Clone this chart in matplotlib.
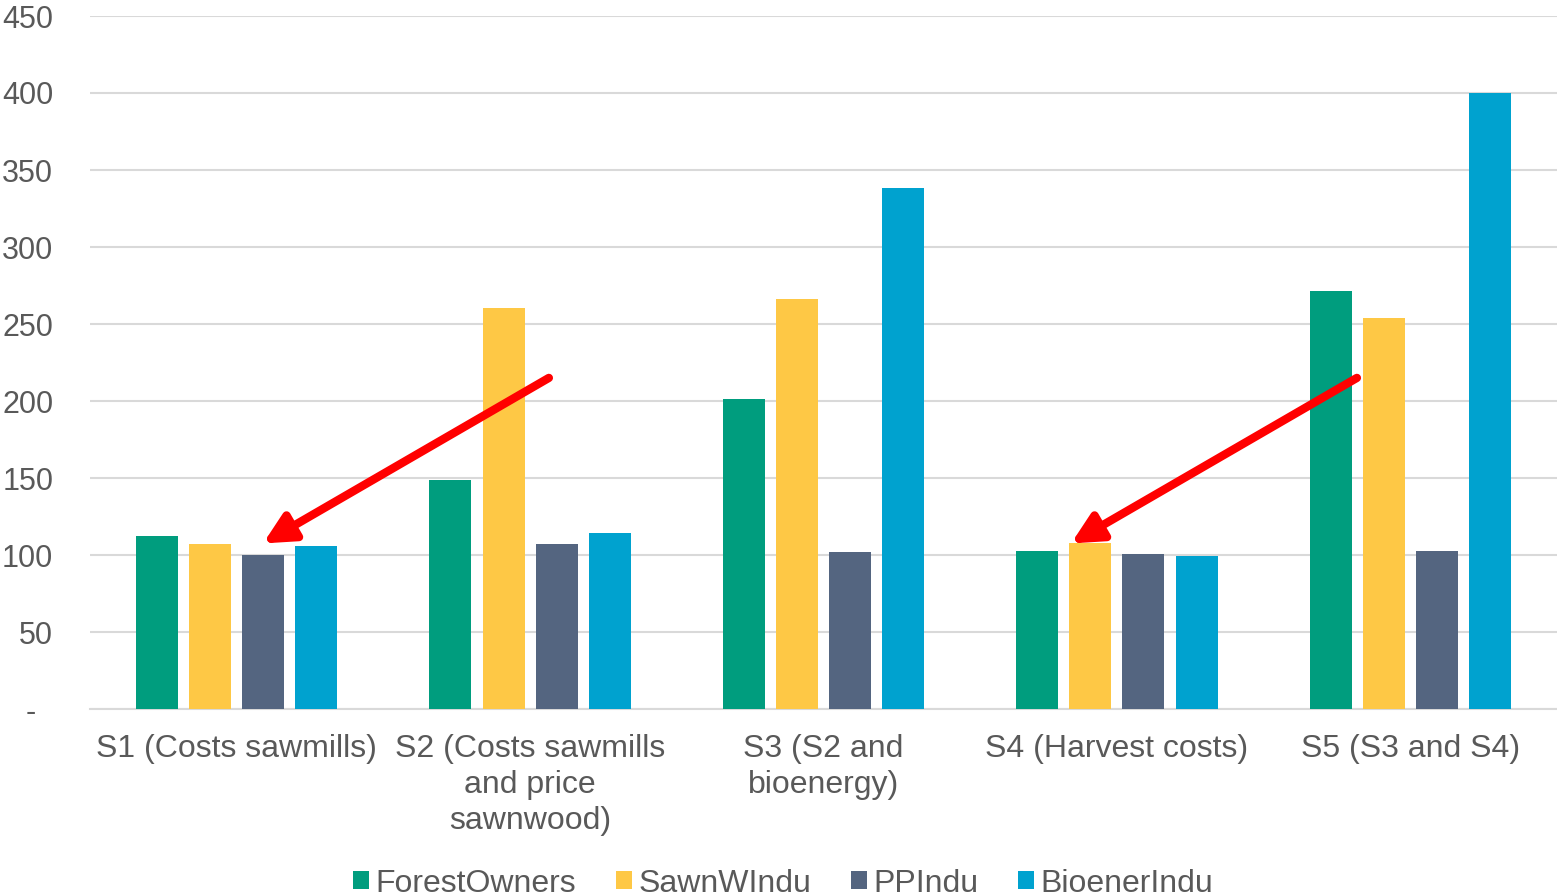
import numpy as np
import matplotlib
matplotlib.use("Agg")
from matplotlib import pyplot as plt

# data
scenarios = ["S1 (Costs sawmills)", "S2 (Costs sawmills\nand price\nsawnwood)",
             "S3 (S2 and\nbioenergy)", "S4 (Harvest costs)", "S5 (S3 and S4)"]
forest_owners = [112.5, 148.5, 201.2, 102.8, 271.4]
sawn_w_indu = [107.2, 260.3, 266.3, 108.0, 253.8]
pp_indu = [100.0, 107.0, 102.2, 100.7, 102.5]
bioener_indu = [105.9, 114.3, 338.0, 99.2, 399.7]
series_names = ["ForestOwners", "SawnWIndu", "PPIndu", "BioenerIndu"]
yticks = [0, 50, 100, 150, 200, 250, 300, 350, 400, 450]
ytick_labels = ["-  ", "50", "100", "150", "200", "250", "300", "350", "400", "450"]

# arrows (tail, head) in data coords
arrows = [((1.064, 215), (0.09, 107.5)),
          ((3.818, 215), (2.844, 107.5))]

colors = ["#009D7E", "#FEC845", "#546580", "#00A2CF"]

plt.rcParams['font.family'] = ['Liberation Sans', 'DejaVu Sans']

fig = plt.figure(figsize=(15.57, 8.96), dpi=100)
ax = fig.add_axes([90 / 1557, 1 - 709 / 896, 1 - 90 / 1557, (709 - 16) / 896])

x = np.arange(len(scenarios))
step = 0.181
width = 0.143
for i, (vals, name) in enumerate(zip([forest_owners, sawn_w_indu, pp_indu, bioener_indu], series_names)):
    ax.bar(x + (i - 1.5) * step, vals, width, color=colors[i], label=name, zorder=3)

ax.set_xlim(-0.5, 4.5)
ax.set_ylim(0, 450)
ax.set_yticks(yticks)
ax.set_yticklabels(ytick_labels)
ax.set_xticks(x)
ax.set_xticklabels(scenarios, linespacing=1.25, fontsize=23)

ax.grid(axis='y', color='#D9D9D9', linewidth=1.5, zorder=0)
for s in ['top', 'right', 'left']:
    ax.spines[s].set_visible(False)
ax.spines['bottom'].set_color('#D9D9D9')
ax.spines['bottom'].set_linewidth(1.5)
ax.tick_params(axis='both', length=0, labelcolor='#595959')
ax.tick_params(axis='y', pad=26.5, labelsize=22)
ax.tick_params(axis='x', pad=18)

for tail, head in arrows:
    ax.annotate("", xy=head, xytext=tail,
                arrowprops=dict(arrowstyle="-|>,head_length=0.9,head_width=0.45",
                                mutation_scale=20,
                                color='#FF0000', lw=6, shrinkA=0, shrinkB=0),
                zorder=5)

fig.legend(loc='lower center', bbox_to_anchor=(0.503, -0.035), ncol=4, frameon=False,
           fontsize=23, handlelength=0.5, handleheight=0.5, handletextpad=0.2,
           columnspacing=1.25, labelcolor='#595959')

plt.savefig("out.png", dpi=100)
